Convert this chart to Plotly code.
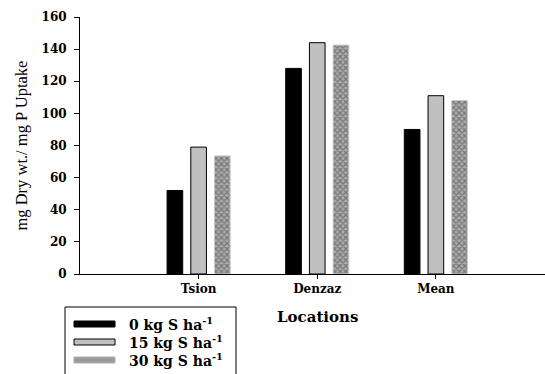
import plotly.graph_objects as go

locations = ["Tsion", "Denzaz", "Mean"]
s0 = [52, 128, 90]
s15 = [79, 144, 111]
s30 = [73.5, 142.5, 108]
series_names = ["0 kg S ha<sup>-1</sup>", "15 kg S ha<sup>-1</sup>", "30 kg S ha<sup>-1</sup>"]
y_ticks = [0, 20, 40, 60, 80, 100, 120, 140, 160]

W, H = 545, 374
ML, MR, MT, MB = 80, 0, 17, 100
PW, PH = W - ML - MR, H - MT - MB

def px_x(p):
    return (p - ML) / PW

def px_y(p):
    return (H - MB - p) / PH

fig = go.Figure()
fig.add_trace(go.Bar(x=locations, y=s0, name=series_names[0],
                     marker=dict(color="#000000", line=dict(color="#000000", width=1)),
                     showlegend=False))
fig.add_trace(go.Bar(x=locations, y=s15, name=series_names[1],
                     marker=dict(color="#c0c0c0", line=dict(color="#000000", width=1)),
                     showlegend=False))
fig.add_trace(go.Bar(x=locations, y=s30, name=series_names[2],
                     marker=dict(color="#a0a0a0", line=dict(color="#c8c8c8", width=1),
                                 pattern=dict(shape="x", fgcolor="#404040", bgcolor="#acacac",
                                              size=4, solidity=0.5, fillmode="overlay")),
                     showlegend=False))

serif_bold = "DejaVu Serif"

fig.update_layout(
    width=W, height=H,
    margin=dict(l=ML, r=MR, t=MT, b=MB, pad=0),
    paper_bgcolor="white", plot_bgcolor="white",
    barmode="group", bargap=0.40, bargroupgap=0.34,
    showlegend=False,
    font=dict(family=serif_bold, color="#000000"),
)
fig.update_xaxes(
    type="category", range=[-1.0, 2.92],
    tickvals=locations, ticktext=["<b>" + c + "</b>" for c in locations],
    showline=True, linecolor="#000000", linewidth=1,
    ticks="outside", ticklen=4, tickcolor="#000000", tickwidth=1,
    tickfont=dict(family=serif_bold, size=12, color="#000000"),
    showgrid=False, zeroline=False,
)
fig.update_yaxes(
    range=[0, 160], tickvals=y_ticks, ticktext=["<b>%d</b>" % v for v in y_ticks],
    showline=True, linecolor="#000000", linewidth=1,
    ticks="outside", ticklen=5, tickcolor="#000000", tickwidth=1,
    tickfont=dict(family=serif_bold, size=12, color="#000000"),
    ticklabelstandoff=5,
    showgrid=False, zeroline=False,
)

# Axis titles
fig.add_annotation(text="mg Dry wt./ mg P Uptake", xref="paper", yref="paper",
                   x=px_x(21), y=0.5, textangle=-90, showarrow=False,
                   xanchor="center", yanchor="middle",
                   font=dict(family="Liberation Serif", size=16.5, color="#000000"))
fig.add_annotation(text="<b>Locations</b>", xref="paper", yref="paper",
                   x=px_x(317), y=px_y(317), showarrow=False,
                   xanchor="center", yanchor="middle",
                   font=dict(family=serif_bold, size=15, color="#000000"))

# Legend (drawn manually to match the wide swatches)
fig.add_shape(type="rect", xref="paper", yref="paper",
              x0=px_x(65), x1=px_x(236), y0=px_y(307), y1=px_y(390),
              line=dict(color="#000000", width=1), fillcolor="rgba(0,0,0,0)")
swatch_fill = ["#000000", "#c0c0c0", "#9a9a9a"]
swatch_line = ["#000000", "#000000", "#b0b0b0"]
row_y = [324, 342, 360]
for name, fc, lc, ry in zip(series_names, swatch_fill, swatch_line, row_y):
    fig.add_shape(type="rect", xref="paper", yref="paper",
                  x0=px_x(74), x1=px_x(115), y0=px_y(ry - 3), y1=px_y(ry + 3),
                  line=dict(color=lc, width=1), fillcolor=fc)
    fig.add_annotation(text="<b>" + name + "</b>", xref="paper", yref="paper",
                       x=px_x(127), y=px_y(ry), showarrow=False,
                       xanchor="left", yanchor="middle",
                       font=dict(family=serif_bold, size=14, color="#000000"))

fig.write_html("out.html")
